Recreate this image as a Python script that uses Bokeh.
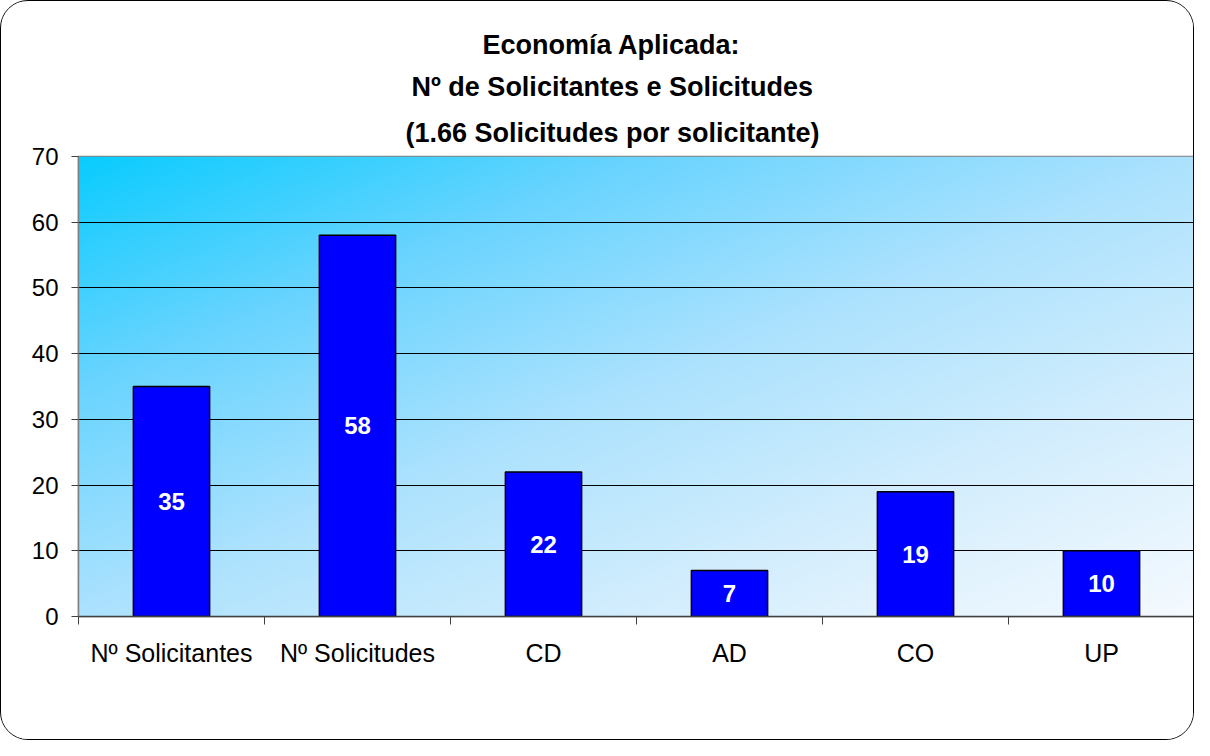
import numpy as np
from bokeh.plotting import figure
from bokeh.models import Range1d, FixedTicker, SingleIntervalTicker, Title, ColumnDataSource
from bokeh.core.properties import value
from bokeh.embed import file_html
from bokeh.resources import INLINE

categories = ["Nº Solicitantes", "Nº Solicitudes", "CD", "AD", "CO", "UP"]
values = [35, 58, 22, 7, 19, 10]
y_ticks = [0, 10, 20, 30, 40, 50, 60, 70]
title_lines = ["Economía Aplicada:", "Nº de Solicitantes e Solicitudes", "(1.66 Solicitudes por solicitante)"]

FONT = "Liberation Sans"
n = len(categories)
ymax = 70

p = figure(width=1194, height=740, output_backend="svg", toolbar_location=None,
           x_range=Range1d(0, n), y_range=Range1d(0, ymax),
           min_border_left=77, min_border_right=1, min_border_top=155, min_border_bottom=125)
p.styles = {"border": "1px solid #000000", "border-radius": "28px", "overflow": "hidden"}
p.background_fill_color = "white"
p.border_fill_color = "white"
p.outline_line_color = "#808080"
p.outline_line_width = 1.5

# gradient background for the plot area
H, W = 120, 240
yy, xx = np.mgrid[0:H, 0:W]
t = (xx / (W - 1) + (1 - yy / (H - 1))) / 2.0  # image row 0 is bottom
stops_t = [0.0, 0.25, 0.5, 0.75, 1.0]
stops_c = [(10, 204, 255), (105, 212, 254), (172, 226, 254), (212, 238, 253), (245, 250, 255)]
img = np.zeros((H, W), dtype=np.uint32)
view = img.view(dtype=np.uint8).reshape((H, W, 4))
for k in range(3):
    view[:, :, k] = np.interp(t, stops_t, [c[k] for c in stops_c]).astype(np.uint8)
view[:, :, 3] = 255
bg = p.image_rgba(image=[img], x=0, y=0, dw=n, dh=ymax)
bg.level = "image"

xs = [i + 0.5 for i in range(n)]
src = ColumnDataSource(dict(x=xs, top=values, mid=[v / 2 for v in values],
                            lab=[str(v) for v in values]))
p.vbar(x="x", top="top", width=0.41, source=src, fill_color="#0000FF",
       line_color="black", line_width=1.5)
p.text(x="x", y="mid", text="lab", source=src, text_color="white",
       text_font=value(FONT), text_font_style="bold", text_font_size="24px",
       text_align="center", text_baseline="middle")

# grid
p.xgrid.grid_line_color = None
p.ygrid.grid_line_color = "black"
p.ygrid.grid_line_width = 1
p.ygrid.ticker = SingleIntervalTicker(interval=10)

# y axis
p.yaxis.ticker = FixedTicker(ticks=y_ticks)
p.yaxis.axis_line_color = "#808080"
p.yaxis.axis_line_width = 1.5
p.yaxis.major_tick_line_color = "#404040"
p.yaxis.major_tick_out = 7
p.yaxis.major_tick_in = 0
p.yaxis.minor_tick_line_color = None
p.yaxis.major_label_text_font = FONT
p.yaxis.major_label_text_font_size = "24px"
p.yaxis.major_label_text_color = "black"
p.yaxis.major_label_standoff = 13

# x axis
p.xaxis.ticker = FixedTicker(ticks=xs, minor_ticks=list(range(n + 1)))
p.xaxis.major_label_overrides = {x: c for x, c in zip(xs, categories)}
p.xaxis.axis_line_color = "#404040"
p.xaxis.axis_line_width = 1.5
p.xaxis.major_tick_line_color = None
p.xaxis.minor_tick_line_color = "#404040"
p.xaxis.minor_tick_out = 8
p.xaxis.minor_tick_in = 0
p.xaxis.major_label_text_font = FONT
p.xaxis.major_label_text_font_size = "25px"
p.xaxis.major_label_text_color = "black"
p.xaxis.major_label_standoff = 14

# title lines (first added sits closest to the plot area); left-aligned with offsets
standoffs = [9, 10, 18]
offsets = [404, 333, 327]
for line, so, off in reversed(list(zip(title_lines, standoffs, offsets))):
    p.add_layout(Title(text=line, align="left", offset=off, standoff=so,
                       text_font=FONT, text_font_style="bold", text_font_size="27px",
                       text_color="black"), "above")

open("out.html", "w").write(file_html(p, INLINE))
